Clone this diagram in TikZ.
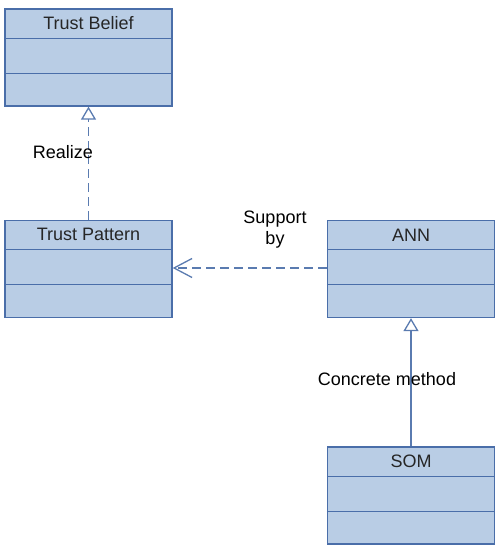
\documentclass[tikz,border=0pt]{standalone}
\usepackage{fontspec}
\setmainfont{Liberation Sans}
\usetikzlibrary{arrows.meta,positioning}

\definecolor{boxfill}{HTML}{B9CDE5}
\definecolor{boxline}{HTML}{4A6EA9}
\definecolor{linkline}{HTML}{5A7BB0}
\definecolor{titletext}{HTML}{262626}

\tikzset{
  umlbox/.style={draw=boxline, fill=boxfill, line width=1.3pt, minimum width=167pt, minimum height=97pt, inner sep=0pt},
  umldiv/.style={draw=boxline, line width=1.3pt},
  umltitle/.style={text=titletext, font=\fontsize{18}{21}\selectfont, inner sep=0pt},
  linklabel/.style={text=black, font=\fontsize{18}{21}\selectfont, inner sep=1pt, align=center},
  link/.style={draw=linkline, line width=1.3pt},
  opentri/.style={-{Triangle[open, length=13pt, width=15pt, fill=white]}},
  realizes/.style={link, opentri, dash pattern=on 9pt off 5pt},
  supports/.style={link, dash pattern=on 9pt off 5pt, -{Straight Barb[length=18pt, width=19pt]}},
}

% name, x, y, title
\newcommand\umlclass[4]{%
  \node[umlbox] (#1) at (#2,#3) {};
  \draw[umldiv] ([yshift=-30pt]#1.north west) -- ([yshift=-30pt]#1.north east);
  \draw[umldiv] ([yshift=-65pt]#1.north west) -- ([yshift=-65pt]#1.north east);
  \node[umltitle] (#1-title) at ([yshift=-15pt]#1.north) {#4};
}

\begin{document}
\begin{tikzpicture}[x=1pt, y=1pt]
  \useasboundingbox (0,0) rectangle (497,551);

  %%%%% classes %%%%%
  \def\xleft{88.5}
  \def\xright{411}
  \umlclass{belief}{\xleft}{493.5}{Trust Belief}
  \umlclass{pattern}{\xleft}{282}{Trust Pattern}
  \umlclass{ann}{\xright}{282}{ANN}
  \umlclass{som}{\xright}{55.5}{SOM}

  %%%%% relations %%%%%
  \draw[realizes] (pattern.north) -- (belief.south);
  \draw[supports] ([yshift=1pt]ann.west) -- ([yshift=1pt]pattern.east);
  \draw[link, opentri] (som.north) -- (ann.south);

  \node[linklabel] (realize) at (63,399) {Realize};
  \node[linklabel] (supportby) at (275,321) {Support\\by};
  \node[linklabel] (concrete) at (387,172) {Concrete method};
\end{tikzpicture}
\end{document}
